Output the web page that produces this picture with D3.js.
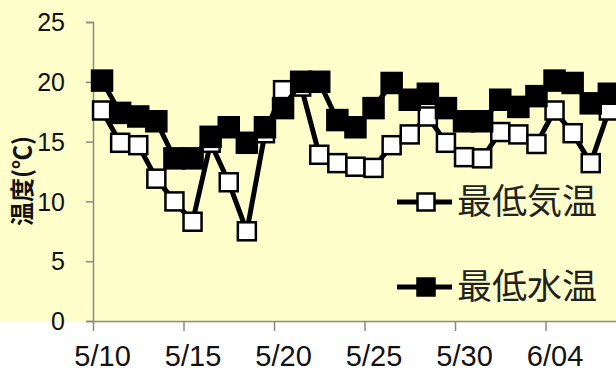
<!DOCTYPE html>
<html>
<head>
<meta charset="utf-8">
<script src="https://cdn.jsdelivr.net/npm/d3@7"></script>
<style>
  html, body { margin: 0; padding: 0; background: #ffffff; }
  svg { display: block; }
</style>
</head>
<body>
<svg id="chart" width="616" height="372"></svg>
<script>
// Daily minimum temperatures, 5/10 – 6/07
const dates = [
  "2010-05-10","2010-05-11","2010-05-12","2010-05-13","2010-05-14","2010-05-15",
  "2010-05-16","2010-05-17","2010-05-18","2010-05-19","2010-05-20","2010-05-21",
  "2010-05-22","2010-05-23","2010-05-24","2010-05-25","2010-05-26","2010-05-27",
  "2010-05-28","2010-05-29","2010-05-30","2010-05-31","2010-06-01","2010-06-02",
  "2010-06-03","2010-06-04","2010-06-05","2010-06-06","2010-06-07"
];
const airMin = [17.6, 14.9, 14.7, 11.9, 10.0, 8.3, 14.9, 11.6, 7.5, 15.7, 19.3, 19.6,
                13.9, 13.2, 12.9, 12.8, 14.7, 15.6, 17.1, 14.9, 13.7, 13.6, 15.8, 15.6,
                14.8, 17.6, 15.7, 13.2, 17.6];
const waterMin = [20.1, 17.4, 17.1, 16.7, 13.6, 13.6, 15.4, 16.2, 14.9, 16.2, 17.8, 20.0,
                  20.0, 16.8, 16.2, 17.8, 19.9, 18.5, 19.0, 17.8, 16.7, 16.7, 18.5, 17.9,
                  18.8, 20.1, 19.9, 18.2, 19.0];
const yTicks = [0, 5, 10, 15, 20, 25];
const xTickDates = ["2010-05-10","2010-05-15","2010-05-20","2010-05-25","2010-05-30","2010-06-04"];
const seriesNames = ["最低気温", "最低水温"];
const yTitle = "温度(℃)";

const parse = d3.timeParse("%Y-%m-%d");
const fmt = d3.timeFormat("%-m/%d");
const dayMs = 864e5;

const svg = d3.select("#chart");
const W = 616, H = 372;
const left = 93, plotTop = 22, plotBottom = 321;

// backgrounds
svg.append("rect").attr("width", W).attr("height", H).attr("fill", "#ffffff");
svg.append("rect").attr("width", W).attr("height", 322).attr("fill", "#ffffcc");

const x = d3.scaleTime()
  .domain([parse("2010-05-10"), parse("2010-06-08")])
  .range([left, left + 18.1 * 29]);
const y = d3.scaleLinear().domain([0, 25]).range([plotBottom, plotTop]);

const axisColor = "#8a8a80";
const fontLatin = "Arial, 'Liberation Sans', sans-serif";
const fontCJK = "'Noto Sans CJK JP', sans-serif";

// y axis
const yAxis = svg.append("g").attr("transform", `translate(${left},0)`)
  .call(d3.axisLeft(y).tickValues(yTicks).tickSize(7).tickSizeOuter(7).tickPadding(21));
yAxis.select(".domain").attr("stroke", axisColor).attr("stroke-width", 1.5);
yAxis.selectAll(".tick line").attr("stroke", axisColor).attr("stroke-width", 1.5);
yAxis.selectAll(".tick text")
  .attr("font-family", fontLatin).attr("font-size", 25).attr("fill", "#111")
  .attr("dy", "0.35em");

// x axis
const xAxis = svg.append("g").attr("transform", `translate(0,${plotBottom})`)
  .call(d3.axisBottom(x).tickValues(xTickDates.map(parse)).tickFormat(fmt)
    .tickSize(10).tickSizeOuter(0));
xAxis.select(".domain").attr("stroke", axisColor).attr("stroke-width", 1.5);
xAxis.selectAll(".tick line").attr("stroke", axisColor).attr("stroke-width", 1.5);
xAxis.selectAll(".tick text")
  .attr("font-family", fontLatin).attr("font-size", 29).attr("fill", "#111")
  .attr("x", 18.1 / 2).attr("y", 45).attr("dy", 0);

// y axis title
svg.append("text")
  .attr("transform", "translate(31,181) rotate(-90)")
  .attr("text-anchor", "middle")
  .attr("font-family", fontCJK).attr("font-size", 24).attr("font-weight", "bold")
  .attr("fill", "#111")
  .text(yTitle);

// data series
const pts = (vals) => vals.map((v, i) => ({ t: new Date(parse(dates[i]).getTime() + dayMs / 2), v }));
const line = d3.line().x(d => x(d.t)).y(d => y(d.v));

const series = [
  { vals: airMin, fill: "#ffffff", size: 18 },
  { vals: waterMin, fill: "#000000", size: 20 }
];

series.forEach(s => {
  const p = pts(s.vals);
  svg.append("path").datum(p).attr("d", line)
    .attr("fill", "none").attr("stroke", "#000").attr("stroke-width", 5)
    .attr("stroke-linejoin", "round");
  svg.append("g").selectAll("rect").data(p).join("rect")
    .attr("x", d => x(d.t) - s.size / 2).attr("y", d => y(d.v) - s.size / 2)
    .attr("width", s.size).attr("height", s.size)
    .attr("fill", s.fill).attr("stroke", "#000").attr("stroke-width", 2.5);
});

// legend
const legendRows = [
  { name: seriesNames[0], fill: "#ffffff", ly: 202 },
  { name: seriesNames[1], fill: "#000000", ly: 287 }
];
legendRows.forEach(r => {
  const g = svg.append("g");
  g.append("line").attr("x1", 397).attr("x2", 452).attr("y1", r.ly).attr("y2", r.ly)
    .attr("stroke", "#000").attr("stroke-width", 5);
  g.append("rect").attr("x", 426 - 8.5).attr("y", r.ly - 8.5).attr("width", 17).attr("height", 17)
    .attr("fill", r.fill).attr("stroke", "#000").attr("stroke-width", 2.5);
  g.append("text").attr("x", 457).attr("y", r.ly + 12)
    .attr("font-family", fontCJK).attr("font-size", 35).attr("fill", "#222")
    .text(r.name);
});
</script>
</body>
</html>
